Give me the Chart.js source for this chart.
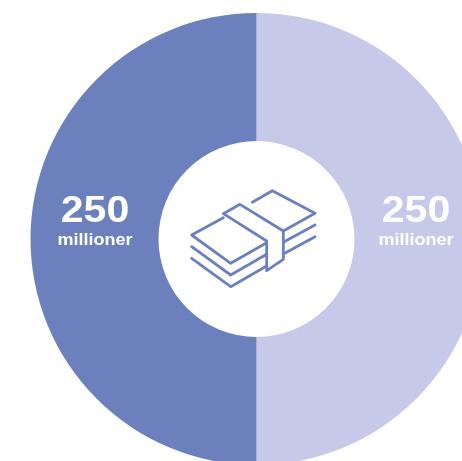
<!DOCTYPE html>
<html>
<head>
<meta charset="utf-8">
<style>
  html, body { margin: 0; padding: 0; background: #fff; width: 462px; height: 461px; overflow: hidden; }
  #wrap { position: relative; width: 462px; height: 461px; overflow: hidden; }
  canvas { position: absolute; left: 0; top: 0; }
</style>
<script src="https://cdn.jsdelivr.net/npm/chart.js@4"></script>
</head>
<body>
<div id="wrap"><canvas id="chart" width="513" height="478"></canvas></div>
<script>
const categories = ['Del 1', 'Del 2'];
const amounts = [250, 250];
const unitLabel = 'millioner';
const sliceColors = ['#c7c9e8', '#6c80bd'];
const iconColor = '#6c80bd';

// Banknote bundle, in icon units around the doughnut centre
const iconStrokes = [
  [[247,97],[307,62],[435,130],[340,183]],
  [[160,131],[210,103],[340,183],[340,268],[290,302],[290,213],[160,131]],
  [[160,143],[65,195],[182,280],[290,218]],
  [[65,230],[182,315],[290,253]],
  [[65,265],[182,350],[290,288]],
  [[340,217],[435,165]],
  [[340,252],[435,200]]
];

const centerIcon = {
  id: 'centerIcon',
  afterDatasetsDraw(chart) {
    const arc = chart.getDatasetMeta(0).data[0];
    const { ctx } = chart;
    const originX = arc.x - 86.5, originY = arc.y - 69;
    ctx.save();
    ctx.strokeStyle = iconColor;
    ctx.lineWidth = 2.8;
    ctx.lineJoin = 'round';
    ctx.lineCap = 'round';
    iconStrokes.forEach(points => {
      ctx.beginPath();
      points.forEach(([u, v], i) => {
        const x = originX + u / 3, y = originY + v / 3;
        if (i) ctx.lineTo(x, y); else ctx.moveTo(x, y);
      });
      ctx.stroke();
    });
    ctx.restore();
  }
};

// Centred text, widened slightly along x
function wideText(ctx, text, x, y, font, widen) {
  ctx.save();
  ctx.font = font;
  ctx.translate(x, y);
  ctx.scale(widen, 1);
  ctx.fillText(text, 0, 0);
  ctx.restore();
}

const sliceLabels = {
  id: 'sliceLabels',
  afterDatasetsDraw(chart) {
    const { ctx } = chart;
    chart.getDatasetMeta(0).data.forEach((arc, i) => {
      const pos = arc.tooltipPosition();
      const x = pos.x + (i === 0 ? -2.5 : 0.5);
      ctx.save();
      ctx.fillStyle = '#ffffff';
      ctx.textAlign = 'center';
      ctx.textBaseline = 'alphabetic';
      wideText(ctx, String(amounts[i]), x, pos.y - 17, 'bold 37px "Liberation Sans", Arial, sans-serif', 1.11);
      wideText(ctx, unitLabel, x, pos.y + 5.5, 'bold 17px "Liberation Sans", Arial, sans-serif', 1.06);
      ctx.restore();
    });
  }
};

new Chart(document.getElementById('chart'), {
  type: 'doughnut',
  data: {
    labels: categories,
    datasets: [{ data: amounts, backgroundColor: sliceColors, borderWidth: 0 }]
  },
  options: {
    responsive: false,
    animation: false,
    cutout: 98,
    layout: { padding: { top: 13, bottom: 13, left: 0, right: 0 } },
    plugins: { legend: { display: false }, tooltip: { enabled: false } }
  },
  plugins: [sliceLabels, centerIcon]
});
</script>
</body>
</html>
